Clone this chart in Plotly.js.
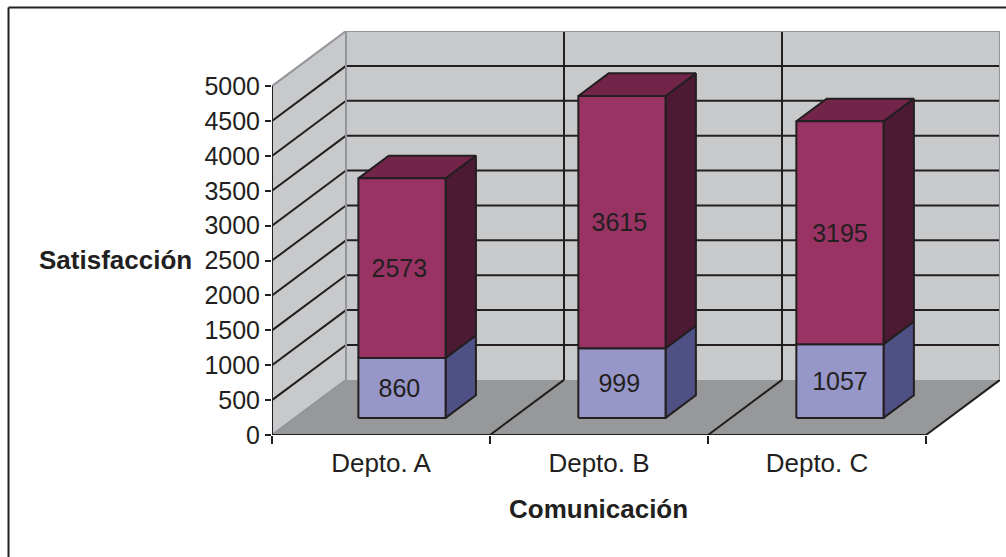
<!DOCTYPE html>
<html>
<head>
<meta charset="utf-8">
<script src="https://cdn.plot.ly/plotly-3.0.1.min.js"></script>
<style>html,body{margin:0;padding:0;background:#fff}</style>
</head>
<body>
<div id="chart" style="width:1006px;height:557px"></div>
<script>
const categories = ["Depto. A", "Depto. B", "Depto. C"];
const blueValues = [860, 999, 1057];
const redValues = [2573, 3615, 3195];
const yTicks = [0, 500, 1000, 1500, 2000, 2500, 3000, 3500, 4000, 4500, 5000];
const yLabelValues = ["0", "500", "1000", "1500", "2000", "2500", "3000", "3500", "4000", "4500", "5000"];

// oblique projection: full depth (d=1) shifts by these amounts in axis units
const DEPTH_X = 74 / 218, DEPTH_Y = 790;
const P = (x, v, d) => [x + d * DEPTH_X, v + d * DEPTH_Y];
const INK = "#231F20", EDGE = "#939598";
const FONT = "Liberation Sans, Arial, sans-serif";

const traces = [];
function poly(pts, fill, line, lw) {
  const c = pts.map(p => P(p[0], p[1], p[2]));
  c.push(c[0]);
  traces.push({type: "scatter", mode: "lines", x: c.map(p => p[0]), y: c.map(p => p[1]),
    fill: "toself", fillcolor: fill, line: {color: line || fill, width: lw === undefined ? 2 : lw},
    hoverinfo: "skip", showlegend: false, cliponaxis: false});
}
function seg(a, b, color, w) {
  const c = [P(a[0], a[1], a[2]), P(b[0], b[1], b[2])];
  traces.push({type: "scatter", mode: "lines", x: c.map(p => p[0]), y: c.map(p => p[1]),
    line: {color: color, width: w || 2}, hoverinfo: "skip", showlegend: false, cliponaxis: false});
}

const n = categories.length, maxV = yTicks[yTicks.length - 1];

// walls and floor
poly([[0,0,0],[0,maxV,0],[0,maxV,1],[0,0,1]], "#C8C9CB", "#C8C9CB", 0);
poly([[0,0,1],[0,maxV,1],[n,maxV,1],[n,0,1]], "#C8C9CB", "#C8C9CB", 0);
poly([[0,0,0],[0,0,1],[n,0,1],[n,0,0]], "#97989A", "#97989A", 0);

// gridlines
yTicks.slice(1, -1).forEach(v => {
  seg([0,v,0],[0,v,1], INK);
  seg([0,v,1],[n,v,1], INK);
});
for (let k = 1; k < n; k++) {
  seg([k,0,1],[k,maxV,1], INK);
  seg([k,0,0],[k,0,1], INK);
}
seg([n,0,0],[n,0,1], INK);

// wall edges
seg([0,maxV,0],[0,maxV,1], EDGE);
seg([0,maxV,1],[n,maxV,1], EDGE);
seg([0,0,1],[0,maxV,1], EDGE);
seg([n,0,1],[n,maxV,1], EDGE);
seg([0,0,0],[0,0,1], EDGE);

// bars
const BAR_L = 0.3, BAR_R = 0.7, D0 = 0.31, D1 = 0.72;
const BAR_NUDGE = [-0.009, 0, 0], LABEL_NUDGE = [-0.012, -0.012, 0], LABEL_DROP = 40;
const labelX = [], labelY = [], labelT = [];
categories.forEach((c, k) => {
  const l = k + BAR_L + BAR_NUDGE[k], r = k + BAR_R + BAR_NUDGE[k];
  const b = blueValues[k], t = b + redValues[k];
  poly([[r,0,D0],[r,b,D0],[r,b,D1],[r,0,D1]], "#4F5185", INK);
  poly([[l,0,D0],[l,b,D0],[r,b,D0],[r,0,D0]], "#9796C9", INK);
  poly([[r,b,D0],[r,t,D0],[r,t,D1],[r,b,D1]], "#4D1A33", INK);
  poly([[l,t,D0],[l,t,D1],[r,t,D1],[r,t,D0]], "#732449", INK);
  poly([[l,b,D0],[l,t,D0],[r,t,D0],[r,b,D0]], "#993364", INK);
  [[b / 2, blueValues[k]], [b + redValues[k] / 2, redValues[k]]].forEach(p => {
    const q = P((l + r) / 2 + LABEL_NUDGE[k], p[0] - LABEL_DROP, D0);
    labelX.push(q[0]); labelY.push(q[1]); labelT.push(String(p[1]));
  });
});
traces.push({type: "scatter", mode: "text", x: labelX, y: labelY, text: labelT,
  textposition: "middle center", textfont: {family: FONT, size: 25, color: INK},
  hoverinfo: "skip", showlegend: false, cliponaxis: false});

// axis lines
seg([0,0,0],[0,maxV,0], INK);
seg([0,0,0],[n,0,0], INK);

// page pixels to paper fractions of the plot area
const M = {l: 272, r: 6, t: 31, b: 122};
const pw = 1006 - M.l - M.r, ph = 557 - M.t - M.b;
const fx = px => (px - M.l) / pw, fy = py => 1 - (py - M.t) / ph;

const layout = {
  width: 1006, height: 557,
  paper_bgcolor: "#fff", plot_bgcolor: "rgba(0,0,0,0)",
  margin: {l: M.l, r: M.r, t: M.t, b: M.b, pad: 0},
  showlegend: false,
  font: {family: FONT, size: 25, color: INK},
  xaxis: {
    range: [0, n + DEPTH_X], showgrid: false, zeroline: false, showline: false,
    tickmode: "array", tickvals: categories.map((c, k) => k + 0.5), ticktext: categories,
    ticks: "", ticklabelstandoff: 10,
    tickfont: {family: FONT, size: 26, color: INK},
    minor: {tickmode: "array", tickvals: Array.from({length: n + 1}, (_, k) => k),
      ticks: "outside", ticklen: 8, tickwidth: 2, tickcolor: INK, showgrid: false}
  },
  yaxis: {
    range: [0, maxV + DEPTH_Y], showgrid: false, zeroline: false, showline: false,
    tickmode: "array", tickvals: yTicks, ticktext: yLabelValues,
    ticks: "outside", ticklen: 6, tickwidth: 2, tickcolor: INK,
    tickfont: {family: FONT, size: 25, color: INK}
  },
  annotations: [
    {text: "<b>Satisfacción</b>", xref: "paper", yref: "paper", x: fx(115), y: fy(260),
      xanchor: "center", yanchor: "middle", showarrow: false, font: {family: FONT, size: 26, color: INK}},
    {text: "<b>Comunicación</b>", xref: "paper", yref: "paper", x: fx(598), y: fy(509),
      xanchor: "center", yanchor: "middle", showarrow: false, font: {family: FONT, size: 26, color: INK}}
  ],
  shapes: [
    {type: "line", xref: "paper", yref: "paper", x0: fx(8.5), x1: fx(1006), y0: fy(7.5), y1: fy(7.5), line: {color: INK, width: 2}},
    {type: "line", xref: "paper", yref: "paper", x0: fx(8.5), x1: fx(8.5), y0: fy(557), y1: fy(7.5), line: {color: INK, width: 2}}
  ]
};
Plotly.newPlot("chart", traces, layout, {displayModeBar: false, staticPlot: true});
</script>
</body>
</html>
